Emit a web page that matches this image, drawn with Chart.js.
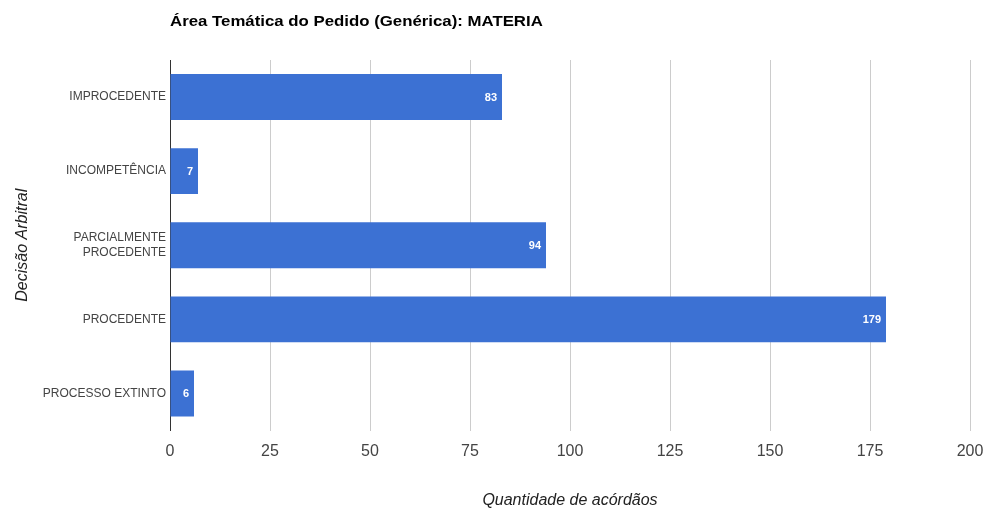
<!DOCTYPE html>
<html>
<head>
<meta charset="utf-8">
<script src="https://cdn.jsdelivr.net/npm/chart.js@4/dist/chart.umd.min.js"></script>
<style>
html,body{margin:0;padding:0;background:#fff;}
#wrap{width:987px;height:510px;position:relative;}
</style>
</head>
<body>
<div id="wrap"><canvas id="c" width="987" height="510"></canvas></div>
<script>
const chartTitle = 'Área Temática do Pedido (Genérica): MATERIA';
const categories = ['IMPROCEDENTE', 'INCOMPETÊNCIA', ['PARCIALMENTE', 'PROCEDENTE'], 'PROCEDENTE', 'PROCESSO EXTINTO'];
const values = [83, 7, 94, 179, 6];
const xTicks = [0, 25, 50, 75, 100, 125, 150, 175, 200];
const xTitle = 'Quantidade de acórdãos';
const yTitle = 'Decisão Arbitral';

const titlePlugin = {
  id: 'leftTitle',
  afterDraw(chart) {
    const ctx = chart.ctx;
    ctx.save();
    ctx.font = 'bold 14px Arial, "Liberation Sans", sans-serif';
    ctx.fillStyle = '#000';
    ctx.textAlign = 'left';
    ctx.textBaseline = 'middle';
    const x0 = chart.chartArea.left;
    ctx.translate(x0, 22);
    ctx.scale(1.2, 1);
    ctx.fillText(chartTitle, 0, 0);
    ctx.restore();
  }
};

const labelPlugin = {
  id: 'barLabels',
  afterDatasetsDraw(chart) {
    const ctx = chart.ctx;
    const meta = chart.getDatasetMeta(0);
    ctx.save();
    ctx.font = 'bold 11px Arial, "Liberation Sans", sans-serif';
    ctx.fillStyle = '#fff';
    ctx.textAlign = 'right';
    ctx.textBaseline = 'middle';
    meta.data.forEach((bar, i) => {
      ctx.fillText(String(values[i]), bar.x - 5, bar.y + 1);
    });
    ctx.restore();
  }
};

new Chart(document.getElementById('c'), {
  type: 'bar',
  data: {
    labels: categories,
    datasets: [{
      data: values,
      backgroundColor: '#3c71d3',
      borderWidth: 0,
      barPercentage: 0.62,
      categoryPercentage: 1
    }]
  },
  plugins: [titlePlugin, labelPlugin],
  options: {
    indexAxis: 'y',
    responsive: false,
    animation: false,
    layout: { padding: { top: 60, right: 17, left: 0, bottom: 0 } },
    plugins: {
      legend: { display: false },
      title: { display: false },
      tooltip: { enabled: false }
    },
    scales: {
      x: {
        min: 0,
        max: 200,
        afterBuildTicks(scale) { scale.ticks = xTicks.map(v => ({ value: v })); },
        afterFit(scale) { scale.height = 79.5; scale.paddingLeft = 0; scale.paddingRight = 0; },
        grid: {
          color: ctx => (ctx.tick && ctx.tick.value === 0) ? '#333' : '#ccc',
          drawTicks: false
        },
        border: { display: false },
        ticks: {
          padding: 11,
          color: '#444',
          font: { family: 'Arial, "Liberation Sans", sans-serif', size: 16 }
        },
        title: {
          display: true,
          text: xTitle,
          color: '#222',
          padding: { top: 0, bottom: 0 },
          font: { family: 'Arial, "Liberation Sans", sans-serif', size: 16, style: 'italic' }
        }
      },
      y: {
        afterFit(scale) { scale.width = 170; },
        grid: { display: false, drawTicks: false },
        border: { display: true, color: '#333', width: 1 },
        ticks: {
          padding: 4,
          color: '#444',
          font: { family: 'Arial, "Liberation Sans", sans-serif', size: 12 }
        },
        title: {
          display: true,
          text: yTitle,
          color: '#222',
          padding: { top: 13, bottom: 0 },
          font: { family: 'Arial, "Liberation Sans", sans-serif', size: 16, style: 'italic' }
        }
      }
    }
  }
});
</script>
</body>
</html>
